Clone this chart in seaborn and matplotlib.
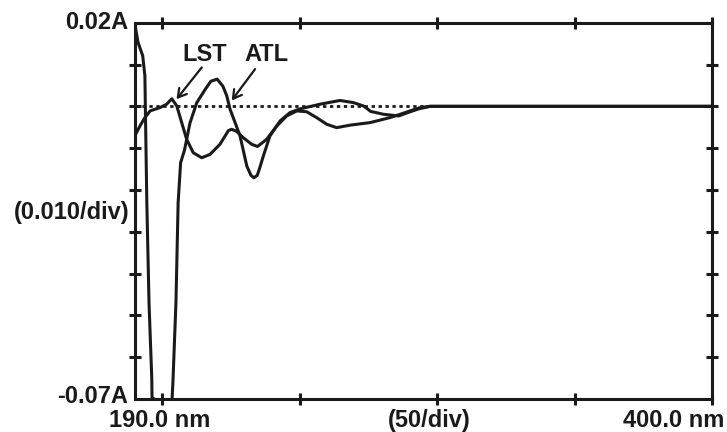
import matplotlib
matplotlib.use("Agg")
import matplotlib.pyplot as plt
import seaborn as sns
import pandas as pd

# ---- data ----
atl_nm = [190, 191.1, 192.8, 193.6, 193.8, 194.3, 195.1, 196.1, 196.2, 200.2, 203.4,
          203.8, 204.9, 205.7, 206.6, 208.0, 210.0, 212.5, 215.5, 217.6, 219.9, 222.0,
          223.4, 224.6, 228.2, 230.7, 232.2, 233.3, 234.5, 235.5, 236.7, 239.1, 242.8,
          246.4, 250.1, 257.3, 264.6, 269.4, 273.1, 274.6, 275.7, 280.4, 286.0, 289.7,
          293.3, 297.4, 400]
atl_abs = [0.0195, 0.0153, 0.0121, 0.0073, -0.0015, -0.023, -0.047, -0.065, -0.0697,
           -0.0712, -0.0712, -0.066, -0.047, -0.023, -0.0135, -0.0105, -0.004, 0.0009,
           0.004, 0.0060, 0.0065, 0.0048, 0.0025, -0.0007, -0.007, -0.0143, -0.0165,
           -0.0171, -0.0165, -0.0145, -0.0119, -0.0071, -0.0035, -0.0015, -0.0006,
           0.0005, 0.0014, 0.0009, 0.0001, -0.0006, -0.0012, -0.0019, -0.0023, -0.0014,
           -0.0006, 0.0, 0.0]

lst_nm = [190, 191.8, 193.6, 195.5, 199.1, 201.5, 203.4, 205.2, 207.0, 208.8, 211.2,
          214.3, 217.3, 220.9, 224.0, 225.2, 227.0, 229.4, 232.5, 234.6, 237.9, 241.6,
          245.2, 248.9, 252.5, 256.1, 259.8, 263.4, 268.3, 275.5, 282.8, 286.5, 290.1,
          293.8, 297.4, 400]
lst_abs = [-0.007, -0.0047, -0.0027, -0.0011, -0.0003, 0.0005, 0.0018, 0.0001, -0.0039,
           -0.0079, -0.0111, -0.0123, -0.0115, -0.0091, -0.0058, -0.0055, -0.006,
           -0.0075, -0.0091, -0.0096, -0.0079, -0.0047, -0.0023, -0.0011, -0.0013,
           -0.0027, -0.0043, -0.0051, -0.0045, -0.0039, -0.0027, -0.0019, -0.0011,
           -0.0003, 0.0, 0.0]

baseline_nm = [190, 297.4]
baseline_abs = [0.0, 0.0]

x_ticks = [200, 250, 300, 350, 400]
y_ticks = [0.01, 0.0, -0.01, -0.02, -0.03, -0.04, -0.05, -0.06]
x_min, x_max = 190, 400
y_min, y_max = -0.07, 0.02

# ---- style ----
sns.set_style("white")
plt.rcParams['font.family'] = ['Liberation Sans', 'DejaVu Sans']
plt.rcParams['font.weight'] = 'bold'
plt.rcParams['lines.solid_joinstyle'] = 'round'
plt.rcParams['lines.solid_capstyle'] = 'round'

fig = plt.figure(figsize=(7.27, 4.32), dpi=100)
ax = fig.add_axes([135/727, 1 - 399/432, 577/727, 376.3/432])

atl_df = pd.DataFrame({"nm": atl_nm, "A": atl_abs})
lst_df = pd.DataFrame({"nm": lst_nm, "A": lst_abs})
base_df = pd.DataFrame({"nm": baseline_nm, "A": baseline_abs})

sns.lineplot(data=base_df, x="nm", y="A", ax=ax, color="#1a1a1a", lw=2.0,
             linestyle=(0, (1.2, 1.3)))
sns.lineplot(data=atl_df, x="nm", y="A", ax=ax, color="#1a1a1a", lw=2.2,
             sort=False, estimator=None)
sns.lineplot(data=lst_df, x="nm", y="A", ax=ax, color="#1a1a1a", lw=2.2,
             sort=False, estimator=None)

ax.set_xlim(x_min, x_max)
ax.set_ylim(y_min, y_max)
ax.set_xlabel("")
ax.set_ylabel("")
ax.set_xticks(x_ticks)
ax.set_yticks(y_ticks)
ax.tick_params(axis='both', which='both', direction='inout', length=9, width=2.2,
               color="#1a1a1a", labelbottom=False, labelleft=False,
               top=True, right=True, bottom=True, left=True)
for s in ax.spines.values():
    s.set_visible(True)
    s.set_linewidth(2.2)
    s.set_color("#1a1a1a")

fs = 17
tc = "#1a1a1a"
ylab = ax.get_yaxis_transform()  # x in axes, y in data
ax.text(-0.012, 0.0200, "0.02A", transform=ylab, ha='right', va='center',
        fontsize=fs, fontweight='bold', color=tc)
ax.text(-0.01, -0.0255, "(0.010/div)", transform=ylab, ha='right', va='center',
        fontsize=fs, fontweight='bold', color=tc)
ax.text(-0.012, -0.0695, "-0.07A", transform=ylab, ha='right', va='center',
        fontsize=fs, fontweight='bold', color=tc)

xlab = ax.get_xaxis_transform()  # x in data, y in axes
ax.text(199, -0.056, "190.0 nm", transform=xlab, ha='center', va='center',
        fontsize=fs, fontweight='bold', color=tc)
ax.text(297, -0.056, "(50/div)", transform=xlab, ha='center', va='center',
        fontsize=fs, fontweight='bold', color=tc)
ax.text(386, -0.056, "400.0 nm", transform=xlab, ha='center', va='center',
        fontsize=fs, fontweight='bold', color=tc)

# annotations
ax.text(215.5, 0.0123, "LST", ha='center', va='center', fontsize=fs,
        fontweight='bold', color=tc)
ax.text(238.0, 0.0123, "ATL", ha='center', va='center', fontsize=fs,
        fontweight='bold', color=tc)
arrow = dict(arrowstyle='->,head_length=0.6,head_width=0.35', lw=1.6, color=tc,
             shrinkA=0, shrinkB=0)
ax.annotate("", xy=(205.1, 0.0017), xytext=(214.3, 0.0093), arrowprops=arrow)
ax.annotate("", xy=(225.2, 0.0014), xytext=(233.7, 0.0089), arrowprops=arrow)

fig.savefig("out.png", dpi=100)
